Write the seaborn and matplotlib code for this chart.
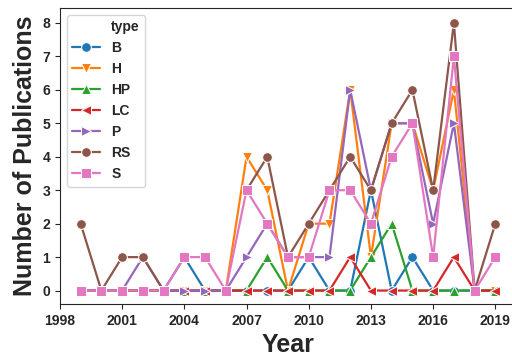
import numpy as np
import pandas as pd
import matplotlib
matplotlib.use("Agg")
import matplotlib.pyplot as plt
from matplotlib.lines import Line2D
import seaborn as sns

years = list(range(1999, 2020))
types = ["B", "H", "HP", "LC", "P", "RS", "S"]

# None = no entry for that year (gap in the line)
B = [0, 0, 0, 0, 0, 1, 0, 0, 0, 0, 0, 1, 0, 0, 3, 0, 1, 0, 0, 0, 0]
H = [0, 0, 0, 0, 0, 0, 0, 0, 4, 3, 0, 2, 2, 6, 1, 5, 5, 3, 6, 0, 0]
HP = [0, 0, 0, 0, 0, 0, 0, 0, 0, 1, 0, 0, 0, 0, 1, 2, 0, 0, 0, 0, 0]
LC = [0, 0, 0, 0, 0, 0, 0, 0, 0, 0, 0, 0, 0, 1, 0, 0, 0, 0, 1, 0, 0]
P = [0, 0, 0, 1, 0, 0, 0, 0, 1, 2, 1, 1, 1, 6, 3, 5, 5, 2, 5, 0, None]
RS = [2, 0, 1, 1, 0, None, None, None, 3, 4, 1, 2, 3, 4, 3, 5, 6, 3, 8, 0, 2]
S = [0, 0, 0, 0, 0, 1, 1, 0, 3, 2, 1, 1, 3, 3, 2, 4, 5, 1, 7, 0, 1]

xticks = [1998, 2001, 2004, 2007, 2010, 2013, 2016, 2019]


def build_frame():
    counts = {"B": B, "H": H, "HP": HP, "LC": LC, "P": P, "RS": RS, "S": S}
    rows = []
    for t in types:
        seg = 0
        for y, c in zip(years, counts[t]):
            if c is None:
                seg += 1
                continue
            rows.append({"Year": y, "type": t, "count": c, "seg": seg})
    return pd.DataFrame(rows)


def main():
    df = build_frame()

    sns.set_style("ticks")
    plt.rcParams["font.family"] = ["Liberation Sans", "DejaVu Sans"]

    fig = plt.figure(figsize=(5.12, 3.58), dpi=100)
    ax = fig.add_axes([0.117, 0.151, 0.891, 0.827])

    sns.lineplot(
        data=df, x="Year", y="count", hue="type", style="type",
        units="seg", estimator=None,
        hue_order=types, style_order=types,
        markers=["o", "v", "^", "<", ">", "o", "s"], dashes=False,
        palette="tab10", linewidth=1.6, markersize=7, ax=ax,
    )

    ax.set_xlim(1998, 2020)
    ax.set_ylim(-0.4, 8.45)
    ax.set_xticks(xticks)
    ax.set_yticks(range(0, 9))
    ax.tick_params(labelsize=10)
    for lab in ax.get_xticklabels() + ax.get_yticklabels():
        lab.set_fontweight("bold")
    ax.set_xlabel("Year", fontsize=18, fontweight="bold")
    ax.set_ylabel("Number of Publications", fontsize=18, fontweight="bold")

    handles, labels = ax.get_legend_handles_labels()
    blank = Line2D([], [], linestyle="none", marker="none")
    ax.legend([blank] + handles, ["type"] + labels, loc="upper left",
              prop={"weight": "bold", "size": 10})

    fig.savefig("out.png", dpi=100)


if __name__ == "__main__":
    main()
